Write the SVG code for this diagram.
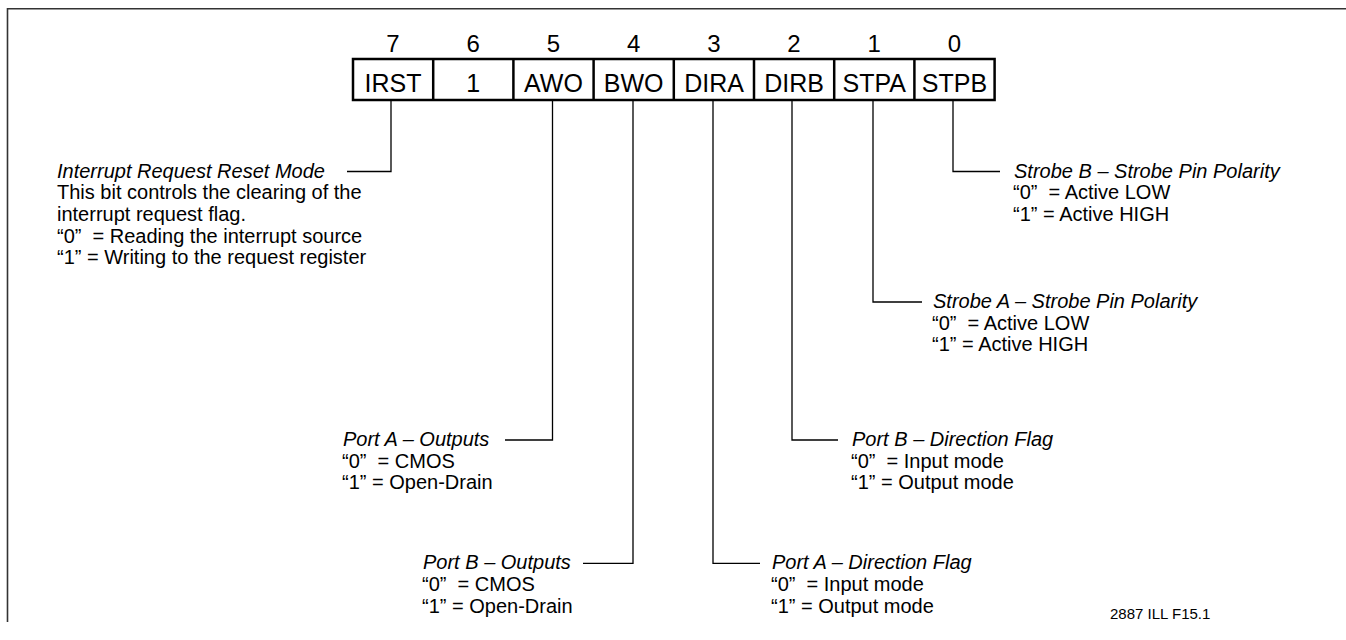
<svg xmlns="http://www.w3.org/2000/svg" width="1346" height="640" viewBox="0 0 1346 640">
<style>
text{font-family:"Liberation Sans",Arial,sans-serif;fill:#000}
.t{font-size:20px}
.h{font-size:20px;font-style:italic}
.bit{font-size:24px;text-anchor:middle}
.cell{font-size:25px;text-anchor:middle}
.conn{fill:none;stroke:#000;stroke-width:1.3}
.box{fill:#fff;stroke:#000;stroke-width:2.5}
.div{stroke:#000;stroke-width:2.5}
.frame{fill:none;stroke:#333;stroke-width:1.6}
</style>
<rect width="1346" height="640" fill="#fff"/>
<path class="frame" d="M7.5,622 V8.8 H1346"/>
<g id="register">
<rect class="box" x="353" y="59" width="641.6" height="41"/>
<line class="div" x1="433.2" y1="59" x2="433.2" y2="100"/>
<line class="div" x1="513.4" y1="59" x2="513.4" y2="100"/>
<line class="div" x1="593.6" y1="59" x2="593.6" y2="100"/>
<line class="div" x1="673.8" y1="59" x2="673.8" y2="100"/>
<line class="div" x1="754" y1="59" x2="754" y2="100"/>
<line class="div" x1="834.2" y1="59" x2="834.2" y2="100"/>
<line class="div" x1="914.4" y1="59" x2="914.4" y2="100"/>
<text class="bit" x="393" y="52">7</text>
<text class="bit" x="473.3" y="52">6</text>
<text class="bit" x="553.5" y="52">5</text>
<text class="bit" x="633.7" y="52">4</text>
<text class="bit" x="714" y="52">3</text>
<text class="bit" x="794" y="52">2</text>
<text class="bit" x="874.3" y="52">1</text>
<text class="bit" x="954.5" y="52">0</text>
<text class="cell" x="393" y="92">IRST</text>
<text class="cell" x="473.3" y="92">1</text>
<text class="cell" x="553.5" y="92">AWO</text>
<text class="cell" x="633.7" y="92">BWO</text>
<text class="cell" x="714" y="92">DIRA</text>
<text class="cell" x="794" y="92">DIRB</text>
<text class="cell" x="874.3" y="92">STPA</text>
<text class="cell" x="954.5" y="92">STPB</text>
</g>
<g id="connectors">
<path class="conn" d="M391,101 V171.5 H347"/>
<path class="conn" d="M552.5,101 V440 H505"/>
<path class="conn" d="M633,101 V563.3 H583"/>
<path class="conn" d="M713,101 V563.3 H760"/>
<path class="conn" d="M792,101 V440 H838"/>
<path class="conn" d="M873,101 V302 H922"/>
<path class="conn" d="M953,101 V171.5 H1000"/>
</g>
<g id="irst">
<text class="h" x="57" y="177.5">Interrupt Request Reset Mode</text>
<text class="t" x="57" y="199.2">This bit controls the clearing of the</text>
<text class="t" x="57" y="220.9">interrupt request flag.</text>
<text class="t" x="57" y="242.6">“0”&#160; = Reading the interrupt source</text>
<text class="t" x="57" y="264.3">“1” = Writing to the request register</text>
</g>
<g id="stpb">
<text class="h" x="1014" y="177.5">Strobe B – Strobe Pin Polarity</text>
<text class="t" x="1013" y="199.2">“0”&#160; = Active LOW</text>
<text class="t" x="1013" y="220.9">“1” = Active HIGH</text>
</g>
<g id="stpa">
<text class="h" x="933" y="308">Strobe A – Strobe Pin Polarity</text>
<text class="t" x="932" y="329.7">“0”&#160; = Active LOW</text>
<text class="t" x="932" y="351.4">“1” = Active HIGH</text>
</g>
<g id="awo">
<text class="h" x="343" y="446">Port A – Outputs</text>
<text class="t" x="342" y="467.7">“0”&#160; = CMOS</text>
<text class="t" x="342" y="489.4">“1” = Open-Drain</text>
</g>
<g id="dirb">
<text class="h" x="852" y="446">Port B – Direction Flag</text>
<text class="t" x="851" y="467.7">“0”&#160; = Input mode</text>
<text class="t" x="851" y="489.4">“1” = Output mode</text>
</g>
<g id="bwo">
<text class="h" x="423" y="569.3">Port B – Outputs</text>
<text class="t" x="422" y="591">“0”&#160; = CMOS</text>
<text class="t" x="422" y="612.7">“1” = Open-Drain</text>
</g>
<g id="dira">
<text class="h" x="772" y="569.3">Port A – Direction Flag</text>
<text class="t" x="771" y="591">“0”&#160; = Input mode</text>
<text class="t" x="771" y="612.7">“1” = Output mode</text>
</g>
<text x="1110" y="619" style="font-size:15px">2887 ILL F15.1</text>
</svg>
